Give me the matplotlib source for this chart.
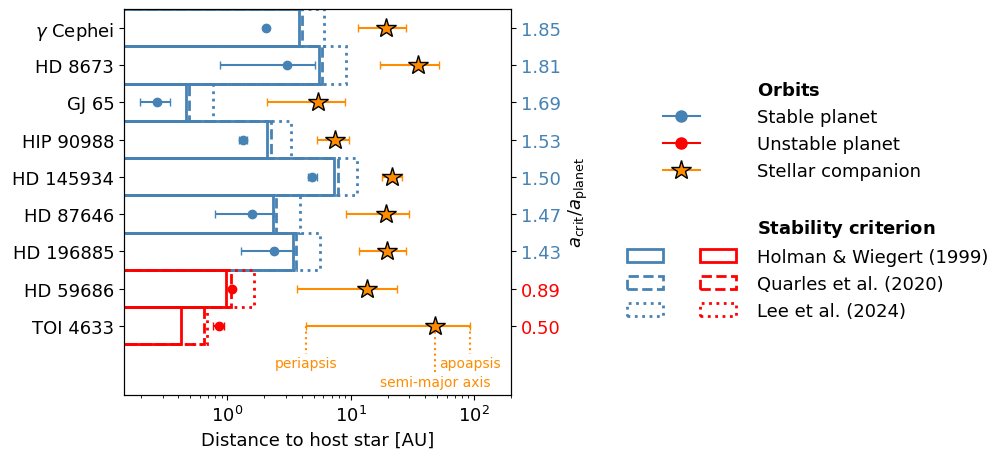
import numpy as np
import matplotlib
matplotlib.use('Agg')
import matplotlib.pyplot as plt
from matplotlib.patches import Rectangle
from matplotlib.lines import Line2D
from matplotlib.legend_handler import HandlerTuple

plt.rcParams['font.size'] = 13

# systems, top to bottom
names = [r'$\gamma$ Cephei', 'HD 8673', 'GJ 65', 'HIP 90988', 'HD 145934',
         'HD 87646', 'HD 196885', 'HD 59686', 'TOI 4633']
# planet semi-major axis [AU] and uncertainty
a_planet = [2.05, 3.02, 0.27, 1.35, 4.90, 1.58, 2.37, 1.09, 0.85]
a_planet_err = [0.03, 2.15, 0.074, 0.10, 0.40, 0.79, 1.09, 0.03, 0.09]
# stellar companion: semi-major axis, periapsis, apoapsis [AU]
a_star = [19.3, 35.4, 5.44, 7.52, 21.8, 19.3, 19.7, 13.6, 48.3]
peri = [11.55, 17.4, 2.09, 5.31, 17.9, 9.12, 11.6, 3.70, 4.35]
apo = [28.0, 52.4, 8.95, 9.65, 26.3, 29.9, 28.1, 23.6, 93.0]
# critical distances from the three criteria [AU]
a_crit_hw = [3.81, 5.54, 0.46, 2.09, 7.38, 2.33, 3.41, 0.976, 0.42]
a_crit_q = [4.06, 5.83, 0.489, 2.25, 7.95, 2.48, 3.63, 1.07, 0.651]
a_crit_lee = [6.09, 9.18, 0.77, 3.27, 11.27, 3.85, 5.65, 1.66, 0.688]
# a_crit / a_planet
ratio = [1.85, 1.81, 1.69, 1.53, 1.50, 1.47, 1.43, 0.89, 0.50]

blue = 'steelblue'
red = 'red'
orange = 'darkorange'

fig = plt.figure(figsize=(10.05, 4.6), dpi=100)
ax = fig.add_axes([0.1234, 0.139, 0.385, 0.839])
xmin = 0.145

for i in range(len(names)):
    col = blue if ratio[i] > 1 else red
    for acrit, ls in zip([a_crit_hw[i], a_crit_q[i], a_crit_lee[i]], ['-', '--', ':']):
        ax.add_patch(Rectangle((0.01, i - 0.5), acrit - 0.01, 1, fill=False,
                               edgecolor=col, lw=2, ls=ls))
    ax.errorbar(a_planet[i], i, xerr=a_planet_err[i], fmt='o', color=col,
                ms=6, capsize=3)
    ax.errorbar(a_star[i], i, xerr=[[a_star[i] - peri[i]], [apo[i] - a_star[i]]],
                fmt='*', color=orange, mfc=orange, mec='k', ms=15, capsize=3, zorder=5)

# orbit annotation under the last system
last = len(names) - 1
ax.plot([peri[last], peri[last]], [last, last + 0.75], ls=':', color=orange, lw=1.5)
ax.plot([apo[last], apo[last]], [last, last + 0.75], ls=':', color=orange, lw=1.5)
ax.plot([a_star[last], a_star[last]], [last, last + 1.25], ls=':', color=orange, lw=1.5)
ax.text(peri[last], last + 1.0, 'periapsis', color=orange, fontsize=10, ha='center', va='center')
ax.text(apo[last], last + 1.0, 'apoapsis', color=orange, fontsize=10, ha='center', va='center')
ax.text(a_star[last], last + 1.5, 'semi-major axis', color=orange, fontsize=10,
        ha='center', va='center')

ax.set_xscale('log')
ax.set_xlim(xmin, 200)
ax.set_ylim(9.86, -0.5)
ax.set_yticks(range(len(names)))
ax.set_yticklabels(names)
ax.set_xlabel('Distance to host star [AU]')

ax2 = ax.twinx()
ax2.set_ylim(ax.get_ylim())
ax2.set_yticks(range(len(names)))
ax2.set_yticklabels(['%.2f' % r for r in ratio])
for lab, r in zip(ax2.get_yticklabels(), ratio):
    lab.set_color(blue if r > 1 else red)
ax2.set_ylabel(r'$a_{\rm crit}/a_{\rm planet}$')

# legend
empty = Line2D([], [], ls='none')
stable = Line2D([], [], color=blue, marker='o', ms=8)
unstable = Line2D([], [], color=red, marker='o', ms=8)
star = Line2D([], [], color=orange, marker='*', mfc=orange, mec='k', ms=15)


def box(col, ls):
    return Rectangle((0, 0), 1, 1, fill=False, edgecolor=col, lw=2, ls=ls)


handles = [empty, (empty, stable, empty), (empty, unstable, empty), (empty, star, empty),
           empty, empty,
           (box(blue, '-'), empty, box(red, '-')),
           (box(blue, '--'), empty, box(red, '--')),
           (box(blue, ':'), empty, box(red, ':'))]
labels = [r'$\bf{Orbits}$', 'Stable planet', 'Unstable planet', 'Stellar companion',
          '', r'$\bf{Stability\ criterion}$',
          'Holman & Wiegert (1999)', 'Quarles et al. (2020)', 'Lee et al. (2024)']
fig.legend(handles, labels, loc='center left', bbox_to_anchor=(0.608, 0.562),
           frameon=False, handlelength=6.0, handletextpad=1.2, labelspacing=0.5,
           handler_map={tuple: HandlerTuple(ndivide=None, pad=0)})

plt.savefig('out.png', dpi=100)
